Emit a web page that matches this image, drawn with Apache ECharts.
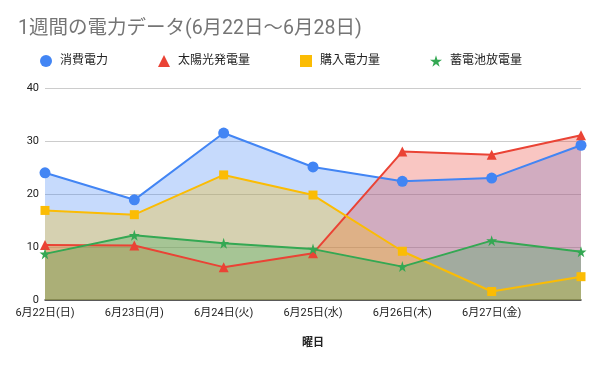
<!DOCTYPE html>
<html><head><meta charset="utf-8">
<script src="https://cdn.jsdelivr.net/npm/echarts@6/dist/echarts.min.js"></script>
<style>html,body{margin:0;padding:0;background:#fff}#c{width:600px;height:371px}</style>
</head><body><div id="c"></div>
<script>
const titleText = '1週間の電力データ(6月22日～6月28日)';
const categories = ['6月22日(日)','6月23日(月)','6月24日(火)','6月25日(水)','6月26日(木)','6月27日(金)','6月28日(土)'];
const seriesNames = ['消費電力','太陽光発電量','購入電力量','蓄電池放電量'];
const consumption = [24.0, 18.9, 31.5, 25.1, 22.4, 23.0, 29.2];
const solar = [10.4, 10.3, 6.2, 8.8, 28.0, 27.4, 31.1];
const purchased = [16.9, 16.1, 23.6, 19.8, 9.2, 1.6, 4.4];
const battery = [8.7, 12.2, 10.7, 9.6, 6.3, 11.2, 9.1];
const yTicks = [0, 10, 20, 30, 40];
const xAxisName = '曜日';

const STAR = 'path://M50,0 L61,35 L98,35 L68,57 L79,91 L50,70 L21,91 L32,57 L2,35 L39,35 Z';
const colors = ['#4285F4','#EA4335','#FBBC04','#34A853'];
const symbols = ['circle','triangle','rect',STAR];
const symSizes = [11, 10, 9, 11];
const values = [consumption, solar, purchased, battery];
const FONT = 'Roboto, "Noto Sans CJK JP", sans-serif';

const areaSeries = seriesNames.map((n,i)=>({
  name: n, type: 'line', data: values[i], symbol: 'none', silent: true,
  itemStyle: {color: colors[i]},
  lineStyle: {width: 0, opacity: 0},
  areaStyle: {color: colors[i], opacity: 0.3, origin: 'start'},
  z: 1
}));
const lineSeries = seriesNames.map((n,i)=>({
  name: n, type: 'line', data: values[i],
  symbol: symbols[i], symbolSize: symSizes[i], showAllSymbol: true,
  itemStyle: {color: colors[i]},
  lineStyle: {color: colors[i], width: 2},
  z: 3 + i
}));

const chart = echarts.init(document.getElementById('c'), null, {renderer:'canvas'});
chart.setOption({
  animation: false,
  title: {text: titleText, left: 13, top: 14,
    textStyle: {fontFamily: FONT, fontSize: 19.5, fontWeight: 'normal', color: '#757575'}},
  legend: {
    left: 35, top: 50, itemGap: 50, itemWidth: 12, itemHeight: 12,
    textStyle: {fontFamily: FONT, fontSize: 12, color: '#222', padding: [0,0,0,3]},
    data: seriesNames.map((n,i)=>({name:n, icon: symbols[i]}))
  },
  grid: {left: 45, right: 19, top: 88, bottom: 71, containLabel: false},
  xAxis: {
    type: 'category', data: categories, boundaryGap: false,
    axisLine: {lineStyle: {color: '#333', width: 1.5}},
    axisTick: {show: false},
    axisLabel: {fontFamily: FONT, fontSize: 11, color: '#222', margin: 8,
      interval: (i) => i < categories.length - 1},
    name: xAxisName, nameLocation: 'middle', nameGap: 38,
    nameTextStyle: {fontFamily: FONT, fontSize: 11, color: '#222', fontWeight: 'bold'}
  },
  yAxis: {
    type: 'value', min: yTicks[0], max: yTicks[yTicks.length-1], interval: 10,
    axisLine: {show: false}, axisTick: {show: false},
    axisLabel: {fontFamily: FONT, fontSize: 11, color: '#222', margin: 6},
    splitLine: {lineStyle: {color: '#ccc', width: 1}}
  },
  series: areaSeries.concat(lineSeries)
});
</script></body></html>
